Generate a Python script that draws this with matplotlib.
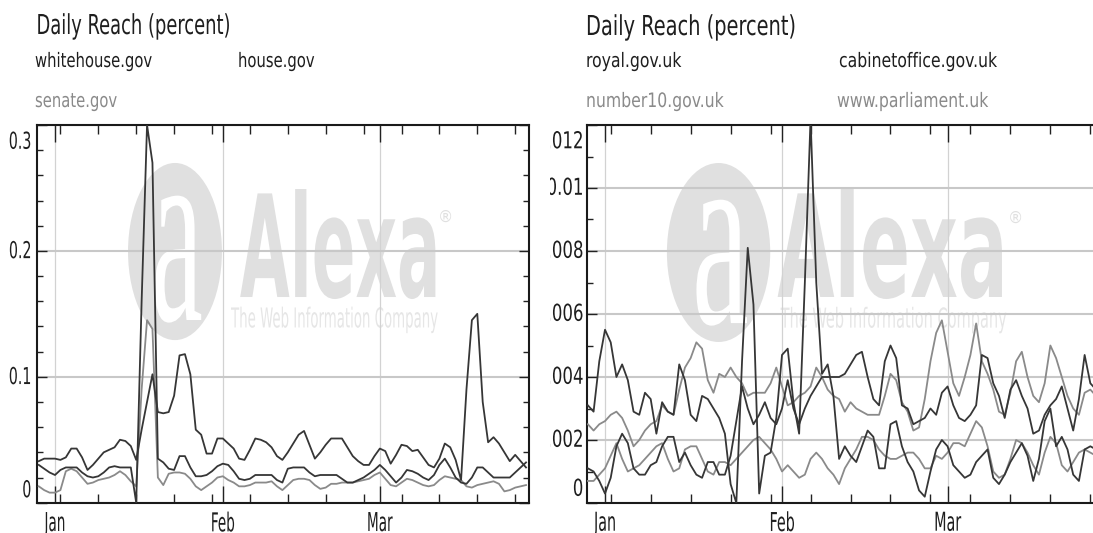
import os

import matplotlib
matplotlib.use("Agg")
import matplotlib.dates as mdates
import matplotlib.pyplot as plt
import pandas as pd
from matplotlib import font_manager as fm
from matplotlib import patheffects
from matplotlib.patches import Ellipse
from matplotlib.textpath import TextPath
from matplotlib.ticker import MultipleLocator
from matplotlib.transforms import (Affine2D, Bbox, ScaledTranslation, TransformedBbox,
                                   blended_transform_factory)

# daily values, 29 Dec 2007 .. 28 Mar 2008
dates = pd.date_range("2007-12-29", "2008-03-28", freq="D")

whitehouse = [
    0.033, 0.035, 0.035, 0.035, 0.034, 0.036, 0.043, 0.043, 0.036, 0.026, 0.030, 0.035, 0.040,
    0.042, 0.044, 0.050, 0.049, 0.045, 0.034, 0.058, 0.080, 0.102, 0.072,
    0.071, 0.072, 0.085, 0.117, 0.118, 0.102, 0.058, 0.054, 0.039, 0.039,
    0.051, 0.051, 0.047, 0.043, 0.035, 0.034, 0.042, 0.051, 0.050, 0.048,
    0.044, 0.037, 0.034, 0.040, 0.047, 0.054, 0.057, 0.046, 0.035, 0.040,
    0.046, 0.051, 0.051, 0.051, 0.044, 0.037, 0.033, 0.030, 0.030, 0.037,
    0.043, 0.041, 0.031, 0.038, 0.046, 0.045, 0.041, 0.042, 0.036, 0.030,
    0.028, 0.035, 0.047, 0.044, 0.034, 0.018, 0.090, 0.145, 0.150, 0.080,
    0.048, 0.052, 0.047, 0.040, 0.033, 0.038, 0.033, 0.028,
]
house = [
    0.030, 0.027, 0.024, 0.022, 0.026, 0.028, 0.028, 0.028, 0.024, 0.021, 0.020, 0.021, 0.024,
    0.028, 0.029, 0.028, 0.028, 0.028, 0.000, 0.160, 0.300, 0.270, 0.035,
    0.032, 0.027, 0.026, 0.037, 0.037, 0.028, 0.021, 0.021, 0.022, 0.025,
    0.029, 0.031, 0.030, 0.025, 0.019, 0.018, 0.019, 0.022, 0.022, 0.022,
    0.022, 0.018, 0.016, 0.027, 0.028, 0.028, 0.028, 0.024, 0.021, 0.022,
    0.022, 0.022, 0.022, 0.019, 0.016, 0.016, 0.018, 0.020, 0.023, 0.026,
    0.030, 0.026, 0.021, 0.016, 0.020, 0.026, 0.025, 0.023, 0.020, 0.018,
    0.022, 0.030, 0.035, 0.028, 0.020, 0.016, 0.015, 0.020, 0.028, 0.028,
    0.024, 0.020, 0.020, 0.020, 0.020, 0.024, 0.028, 0.032,
]
senate = [
    0.013, 0.010, 0.008, 0.008, 0.010, 0.025, 0.027, 0.025, 0.020, 0.015, 0.016, 0.018, 0.019,
    0.020, 0.022, 0.025, 0.022, 0.017, 0.013, 0.090, 0.145, 0.138, 0.020,
    0.014, 0.023, 0.024, 0.024, 0.023, 0.019, 0.013, 0.010, 0.013, 0.016,
    0.020, 0.021, 0.018, 0.016, 0.013, 0.013, 0.014, 0.016, 0.016, 0.016,
    0.017, 0.013, 0.010, 0.014, 0.018, 0.019, 0.019, 0.018, 0.014, 0.011,
    0.012, 0.015, 0.015, 0.016, 0.016, 0.016, 0.017, 0.018, 0.019, 0.022,
    0.024, 0.019, 0.014, 0.013, 0.016, 0.019, 0.018, 0.016, 0.014, 0.013,
    0.014, 0.018, 0.021, 0.020, 0.019, 0.018, 0.013, 0.012, 0.014, 0.015,
    0.016, 0.017, 0.015, 0.009, 0.010, 0.012, 0.013, 0.014,
]

royal = [
    0.0031, 0.0029, 0.0045, 0.0055, 0.0051, 0.0040, 0.0044, 0.0039, 0.0029, 0.0028, 0.0035, 0.0033, 0.0022,
    0.0032, 0.0029, 0.0028, 0.0044, 0.0039, 0.0028, 0.0026, 0.0034, 0.0033, 0.0030,
    0.0027, 0.0022, 0.0006, 0.0000, 0.0045, 0.0081, 0.0063, 0.0003, 0.0015, 0.0016,
    0.0027, 0.0047, 0.0049, 0.0032, 0.0022, 0.0070, 0.0122, 0.0070, 0.0041, 0.0044,
    0.0034, 0.0014, 0.0018, 0.0015, 0.0013, 0.0018, 0.0023, 0.0021, 0.0011, 0.0011,
    0.0025, 0.0026, 0.0018, 0.0013, 0.0010, 0.0004, 0.0002, 0.0010, 0.0017, 0.0020,
    0.0018, 0.0012, 0.0010, 0.0008, 0.0009, 0.0013, 0.0015, 0.0017, 0.0008, 0.0006,
    0.0009, 0.0013, 0.0016, 0.0019, 0.0015, 0.0007, 0.0014, 0.0026, 0.0030, 0.0018,
    0.0021, 0.0017, 0.0009, 0.0007, 0.0017, 0.0018, 0.0017, 0.0016,
]
cabinetoffice = [
    0.0011, 0.0010, 0.0007, 0.0003, 0.0008, 0.0018, 0.0022, 0.0019, 0.0011, 0.0009, 0.0009, 0.0012, 0.0013,
    0.0018, 0.0021, 0.0021, 0.0013, 0.0016, 0.0012, 0.0009, 0.0008, 0.0013, 0.0013,
    0.0009, 0.0009, 0.0015, 0.0026, 0.0037, 0.0030, 0.0025, 0.0028, 0.0032, 0.0027,
    0.0025, 0.0030, 0.0039, 0.0030, 0.0025, 0.0030, 0.0034, 0.0037, 0.0040, 0.0040,
    0.0040, 0.0040, 0.0041, 0.0044, 0.0047, 0.0048, 0.0040, 0.0033, 0.0031, 0.0045,
    0.0050, 0.0046, 0.0031, 0.0030, 0.0025, 0.0026, 0.0027, 0.0030, 0.0028, 0.0035,
    0.0037, 0.0031, 0.0027, 0.0026, 0.0028, 0.0031, 0.0047, 0.0046, 0.0038, 0.0034,
    0.0027, 0.0036, 0.0039, 0.0034, 0.0030, 0.0022, 0.0023, 0.0028, 0.0031, 0.0033,
    0.0037, 0.0030, 0.0023, 0.0033, 0.0047, 0.0038, 0.0036, 0.0034,
]
number10 = [
    0.0025, 0.0023, 0.0025, 0.0026, 0.0028, 0.0029, 0.0027, 0.0023, 0.0018, 0.0020, 0.0023, 0.0025, 0.0026,
    0.0031, 0.0029, 0.0028, 0.0036, 0.0043, 0.0046, 0.0051, 0.0049, 0.0039, 0.0035,
    0.0041, 0.0040, 0.0043, 0.0040, 0.0038, 0.0034, 0.0035, 0.0035, 0.0035, 0.0038,
    0.0043, 0.0037, 0.0031, 0.0032, 0.0034, 0.0035, 0.0037, 0.0043, 0.0040, 0.0036,
    0.0034, 0.0033, 0.0029, 0.0032, 0.0030, 0.0029, 0.0028, 0.0028, 0.0028, 0.0034,
    0.0041, 0.0039, 0.0032, 0.0029, 0.0023, 0.0024, 0.0033, 0.0045, 0.0054, 0.0058,
    0.0048, 0.0038, 0.0034, 0.0040, 0.0047, 0.0057, 0.0045, 0.0041, 0.0036, 0.0029,
    0.0028, 0.0035, 0.0045, 0.0048, 0.0040, 0.0034, 0.0032, 0.0038, 0.0050, 0.0046,
    0.0040, 0.0034, 0.0030, 0.0028, 0.0035, 0.0036, 0.0034, 0.0032,
]
parliament = [
    0.0007, 0.0007, 0.0009, 0.0011, 0.0015, 0.0019, 0.0014, 0.0010, 0.0011, 0.0012, 0.0014, 0.0016, 0.0018,
    0.0019, 0.0014, 0.0010, 0.0011, 0.0017, 0.0018, 0.0018, 0.0014, 0.0010, 0.0009,
    0.0013, 0.0013, 0.0012, 0.0014, 0.0016, 0.0018, 0.0020, 0.0021, 0.0019, 0.0017,
    0.0014, 0.0010, 0.0012, 0.0010, 0.0008, 0.0009, 0.0014, 0.0016, 0.0014, 0.0011,
    0.0009, 0.0006, 0.0011, 0.0014, 0.0017, 0.0021, 0.0021, 0.0020, 0.0017, 0.0015,
    0.0014, 0.0014, 0.0015, 0.0016, 0.0016, 0.0014, 0.0011, 0.0011, 0.0015, 0.0014,
    0.0016, 0.0019, 0.0019, 0.0018, 0.0022, 0.0026, 0.0024, 0.0018, 0.0010, 0.0008,
    0.0009, 0.0014, 0.0020, 0.0019, 0.0016, 0.0012, 0.0009, 0.0016, 0.0021, 0.0019,
    0.0012, 0.0010, 0.0013, 0.0016, 0.0017, 0.0016, 0.0015, 0.0014,
]

month_starts = pd.to_datetime(["2008-01-01", "2008-02-01", "2008-03-01"])
month_labels = ["Jan", "Feb", "Mar"]

left_yticks = [0, 0.1, 0.2, 0.3]
left_ylabels = ["0", "0.1", "0.2", "0.3"]
right_yticks = [0, 0.002, 0.004, 0.006, 0.008, 0.01, 0.012]
right_ylabels = ["0", "0.002", "0.004", "0.006", "0.008", "0.01", "0.012"]

title = "Daily Reach (percent)"
subtitle = "The Web Information Company"

DARK = "#363636"
GRAY = "#8a8a8a"
TEXT = "#1e1e1e"
MARK = "#e0e0e0"


def narrow_font(bold):
    # the reference text is squeezed: look for the narrowest installed condensed sans
    prefixes = ["notosans-", "dejavusanscondensed", "liberationsansnarrow", "robotocondensed",
                "roboto_condensed", "opensans_condensed", "opensanscondensed", "opensans-condensed"]
    want = 700 if bold else 400
    best, best_score = None, None
    for f in fm.fontManager.ttflist:
        base = os.path.basename(f.fname).lower()
        if f.style != "normal" or not ("condensed" in base or "narrow" in base):
            continue
        rank = next((i for i, p in enumerate(prefixes) if base.startswith(p)), None)
        if rank is None:
            continue
        w = f.weight if isinstance(f.weight, int) else fm.weight_dict.get(f.weight, 400)
        if "extracondensed" in base:
            width = 0
        elif "semicondensed" in base:
            width = 2
        elif "ultra" in base:
            width = 3
        else:
            width = 1
        score = (width, rank, abs(w - want))
        if best_score is None or score < best_score:
            best, best_score = f.fname, score
    if best is None:
        return fm.FontProperties(family="DejaVu Sans", weight="bold" if bold else "normal")
    return fm.FontProperties(fname=best)


class Stretch(patheffects.AbstractPathEffect):
    """Draw the glyphs taller than the font gives, like the squashed original."""

    def __init__(self, sy, anchor="baseline"):
        super().__init__()
        self.sy = sy
        self.anchor = anchor

    def draw_path(self, renderer, gc, tpath, affine, rgbFace=None):
        ext = tpath.get_extents(affine)
        if self.anchor == "top":
            y0 = ext.y1
        elif self.anchor == "center":
            y0 = (ext.y0 + ext.y1) / 2
        else:
            y0 = affine.get_matrix()[1, 2]
        tr = Affine2D().translate(0, -y0).scale(1, self.sy).translate(0, y0)
        renderer.draw_path(gc, tpath, affine + tr, rgbFace)


FP = narrow_font(False)
FPB = narrow_font(True)
FPS = fm.FontProperties(family=["Liberation Serif", "DejaVu Serif"])

W, H = 1093, 533
fig = plt.figure(figsize=(W / 100, H / 100), dpi=100)
fig.patch.set_facecolor("white")
renderer = fig.canvas.get_renderer()


def size_for(s, width_px, fp):
    t = fig.text(0, 0, s, fontproperties=fp, fontsize=20)
    w = t.get_window_extent(renderer).width
    t.remove()
    return 20 * width_px / w


def fit(s, width_px, ink_px, fp=FP, ink_of="H"):
    # size from the wanted width, vertical stretch from the wanted ink height
    size = size_for(s, width_px, fp)
    ink = TextPath((0, 0), ink_of, size=100, prop=fp).get_extents().height / 100
    return size, ink_px / (ink * size * 100 / 72)


TITLE_L = fit(title, 194, 20)
TITLE_R = fit(title, 210, 20)
LEG_L = fit("whitehouse.gov", 117, 14.5)
LEG_R = fit("cabinetoffice.gov.uk", 158, 14.5)
YT_L = fit("0.1", 22.5, 17)
YT_R = fit("012", 31.6, 17)
XT_L = fit("Feb", 24, 19)
XT_R = fit("Feb", 25.3, 19)
WORD_L = fit("Alexa", 201, 110, FPB, "Alexa")
WORD_R = fit("Alexa", 231, 110, FPB, "Alexa")
SUB_L = fit(subtitle, 207, 20)
SUB_R = fit(subtitle, 226, 20)
A_L = fit("a", 52, 127, FPS, "a")
A_R = fit("a", 57, 126, FPS, "a")


def px_axes(x0, x1, ytop, ybot):
    return fig.add_axes([x0 / W, 1 - ybot / H, (x1 - x0) / W, (ybot - ytop) / H])


def head(x, y, s, size, color):
    fig.text(x / W, 1 - y / H, s, fontproperties=FP, fontsize=size[0], color=color,
             ha="left", va="baseline", path_effects=[Stretch(size[1])])


def watermark(ax, circ, a_pos, a_size, word_pos, word_size, sub_pos, sub_size, reg_pos):
    ax.add_patch(Ellipse(circ[:2], circ[2], circ[3], transform=ax.transAxes,
                         facecolor=MARK, edgecolor="none", zorder=0.1))
    ax.text(*a_pos, "a", transform=ax.transAxes, fontproperties=FPS, fontsize=a_size[0],
            color="white", ha="center", va="baseline", zorder=0.2,
            path_effects=[Stretch(a_size[1])])
    ax.text(*word_pos, "Alexa", transform=ax.transAxes, fontproperties=FPB,
            fontsize=word_size[0], color=MARK, ha="left", va="baseline", zorder=0.2,
            path_effects=[Stretch(word_size[1])])
    ax.text(*sub_pos, subtitle, transform=ax.transAxes, fontproperties=FP, fontsize=sub_size[0],
            color="#e6e6e6", ha="left", va="baseline", zorder=0.2,
            path_effects=[Stretch(sub_size[1])])
    ax.text(*reg_pos, "\u00ae", transform=ax.transAxes, fontsize=11, color=MARK,
            ha="center", va="center", zorder=0.2)


def style(ax, xlim, yticks, ylabels, yminor, ysize, xsize, top_shift, bottom_shift,
          label_pad, clip=None):
    jan1 = mdates.date2num(month_starts[0])
    ax.set_xlim(jan1 + xlim[0], jan1 + xlim[1])
    ax.set_ylim(yticks[0], yticks[-1])
    ax.set_xticks(month_starts, month_labels)
    ax.xaxis.set_minor_locator(mdates.WeekdayLocator(byweekday=mdates.WE))
    ax.set_yticks(yticks)
    ax.yaxis.set_minor_locator(MultipleLocator(yminor))
    ax.tick_params(axis="x", which="major", direction="in", top=True, bottom=True,
                   length=12, width=1.0, color="#222222", labelcolor=TEXT, pad=6)
    ax.tick_params(axis="x", which="minor", direction="in", top=True, bottom=True,
                   length=6.5, width=1.0, color="#222222")
    ax.tick_params(axis="y", which="major", direction="in", left=True, right=True,
                   length=7, width=1.0, color="#222222", labelleft=False)
    ax.tick_params(axis="y", which="minor", direction="in", left=True, right=True,
                   length=4.3, width=1.0, color="#222222")
    for lbl in ax.get_xticklabels():
        lbl.set_fontproperties(FP)
        lbl.set_fontsize(xsize[0])
        lbl.set_path_effects([Stretch(xsize[1], "top")])
    ax.grid(True, which="major", axis="y", color="#c8c8c8", lw=1.5)
    ax.grid(True, which="major", axis="x", color="#d2d2d2", lw=0.9)
    ax.set_axisbelow(True)
    for sp in ax.spines.values():
        sp.set_linewidth(1.5)
        sp.set_color("#1a1a1a")
    # y labels: the end ones are pulled inside the frame
    base = blended_transform_factory(ax.transAxes, ax.transData)
    for v, s in zip(yticks, ylabels):
        dy = 0
        if v == yticks[-1]:
            dy = -top_shift
        elif v == yticks[0]:
            dy = bottom_shift
        tr = base + ScaledTranslation(-label_pad / 100, dy / 100, fig.dpi_scale_trans)
        t = fig.text(0, v, s, transform=tr, fontproperties=FP, fontsize=ysize[0], color=TEXT,
                     ha="right", va="center", path_effects=[Stretch(ysize[1], "center")])
        if clip is not None:
            t.set_clip_box(clip)
            t.set_clip_on(True)


# left panel: US sites
ax_l = px_axes(37.3, 529.0, 125, 502.7)
watermark(ax_l, (0.280, 0.665, 0.191, 0.469), (0.284, 0.4837), A_L, (0.412, 0.5446), WORD_L,
          (0.394, 0.464), SUB_L, (0.831, 0.756))
ax_l.plot(dates, senate, color=GRAY, lw=1.3, zorder=3)
ax_l.plot(dates, house, color=DARK, lw=1.3, zorder=3)
ax_l.plot(dates, whitehouse, color=DARK, lw=1.3, zorder=3)
style(ax_l, (-3.27, 87.55), left_yticks, left_ylabels, 0.02, YT_L, XT_L, 16.5, 12.7, 6)

head(36.5, 34, title, TITLE_L, TEXT)
head(35, 67, "whitehouse.gov", LEG_L, TEXT)
head(238, 67, "house.gov", LEG_L, TEXT)
head(35, 107, "senate.gov", LEG_L, GRAY)

# right panel: UK sites, runs past the right edge of the picture
ax_r = px_axes(587.3, 587.3 + 517.6, 125, 503)
watermark(ax_r, (0.2536, 0.6627, 0.1996, 0.4735), (0.257, 0.476), A_R, (0.367, 0.545), WORD_R,
          (0.3736, 0.464), SUB_R, (0.827, 0.754))
ax_r.plot(dates, parliament, color=GRAY, lw=1.3, zorder=3)
ax_r.plot(dates, number10, color=GRAY, lw=1.3, zorder=3)
ax_r.plot(dates, cabinetoffice, color=DARK, lw=1.3, zorder=3)
ax_r.plot(dates, royal, color=DARK, lw=1.3, zorder=3)
clip_r = TransformedBbox(Bbox([[550 / W, 0], [1, 1]]), fig.transFigure)
style(ax_r, (-3.1, 87.55), right_yticks, right_ylabels, 0.001, YT_R, XT_R, 16.5, 14, 4,
      clip=clip_r)

head(586, 35, title, TITLE_R, TEXT)
head(586, 67, "royal.gov.uk", LEG_R, TEXT)
head(839, 67, "cabinetoffice.gov.uk", LEG_R, TEXT)
head(586, 107, "number10.gov.uk", LEG_R, GRAY)
head(837, 107, "www.parliament.uk", LEG_R, GRAY)

fig.savefig("out.png", dpi=100)
